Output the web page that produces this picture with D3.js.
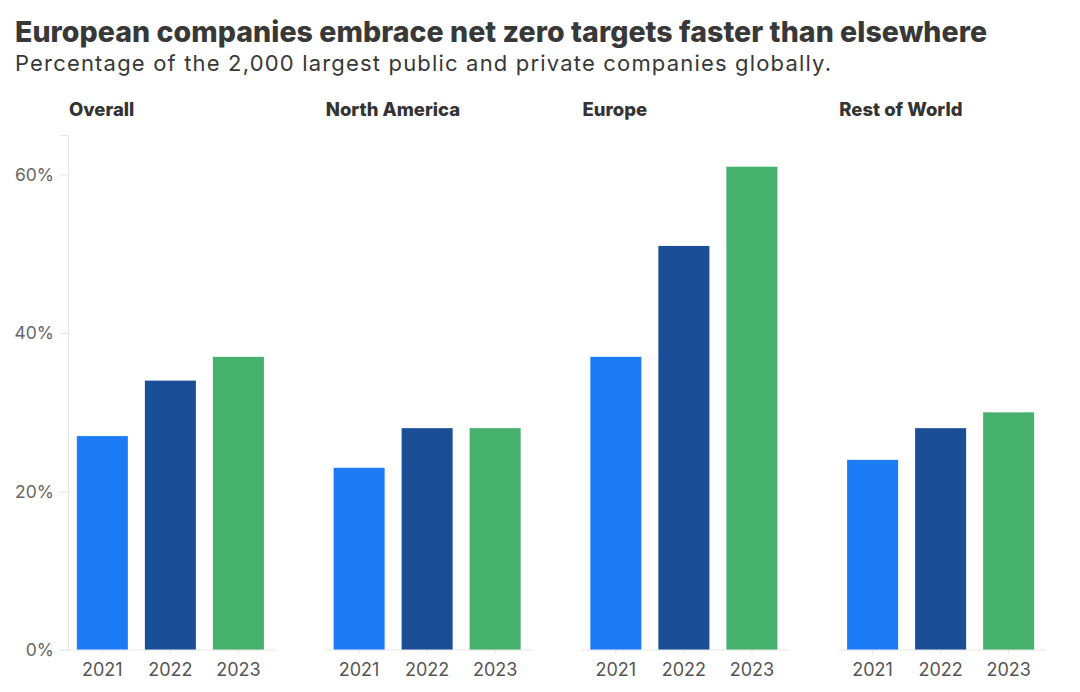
<!DOCTYPE html>
<html>
<head>
<meta charset="UTF-8">
<title>Net zero targets</title>
<script src="https://cdn.jsdelivr.net/npm/d3@7/dist/d3.min.js"></script>
<style>
  body { margin: 0; background: #fff; }
  svg text { font-family: "Inter", "Open Sans", sans-serif; }
</style>
</head>
<body>
<svg width="1080" height="692"></svg>
<script>
  // data
  var regions = ["Overall", "North America", "Europe", "Rest of World"];
  var years = ["2021", "2022", "2023"];
  var v2021 = [27, 23, 37, 24];
  var v2022 = [34, 28, 51, 28];
  var v2023 = [37, 28, 61, 30];
  var yTicks = [0, 20, 40, 60];
  var colors = ["#1b7cf6", "#1a4f98", "#46b06d"];

  var series = [v2021, v2022, v2023];

  var svg = d3.select("svg");
  var marge = {top: 135, bottom: 42, left: 68, right: 37};
  var height = +svg.attr("height");
  var width = +svg.attr("width");

  // titles
  svg.append("text")
    .attr("x", 15).attr("y", 42)
    .attr("font-size", 28.5).attr("font-weight", 800)
    .attr("fill", "#383838")
    .attr("textLength", 972).attr("lengthAdjust", "spacing")
    .text("European companies embrace net zero targets faster than elsewhere");
  svg.append("text")
    .attr("x", 15).attr("y", 71)
    .attr("font-size", 22)
    .attr("fill", "#383838")
    .attr("textLength", 816).attr("lengthAdjust", "spacing")
    .text("Percentage of the 2,000 largest public and private companies globally.");

  var yScale = d3.scaleLinear()
    .domain([0, 65])
    .range([height - marge.bottom, marge.top]);

  // panels
  var panelScale = d3.scaleBand()
    .domain(regions)
    .range([marge.left, width - marge.right + 52])
    .paddingInner(0)
    .paddingOuter(0);
  var panelW = panelScale.step() - 52;

  var xScale = d3.scaleBand()
    .domain(years)
    .range([0, panelW])
    .paddingInner(0.25)
    .paddingOuter(0.13);

  // y axis on the first panel
  var yAxis = d3.axisLeft(yScale)
    .tickValues(yTicks)
    .tickSize(8)
    .tickPadding(6)
    .tickFormat(function(d){ return d + "%"; });
  var gy = svg.append("g")
    .attr("transform", "translate(" + marge.left + ",0)")
    .call(yAxis);
  gy.select(".domain").attr("stroke", "#e6e6e6");
  gy.selectAll(".tick line").attr("stroke", "#e6e6e6");
  gy.selectAll(".tick text")
    .attr("font-size", 17.5).attr("fill", "#666")
    .attr("font-family", "Inter, sans-serif");

  regions.forEach(function(r, ri){
    var g = svg.append("g")
      .attr("transform", "translate(" + panelScale(r) + ",0)");

    g.append("text")
      .attr("x", 1).attr("y", 116)
      .attr("font-size", 18.5).attr("font-weight", 800)
      .attr("fill", "#333")
      .text(r);

    // bars
    g.selectAll("rect")
      .data(years)
      .enter()
      .append("rect")
      .attr("x", function(d){ return xScale(d); })
      .attr("y", function(d, i){ return yScale(series[i][ri]); })
      .attr("width", xScale.bandwidth())
      .attr("height", function(d, i){ return yScale(0) - yScale(series[i][ri]); })
      .attr("fill", function(d, i){ return colors[i]; });

    // x axis
    var gx = g.append("g")
      .attr("transform", "translate(0," + yScale(0) + ")")
      .call(d3.axisBottom(xScale).tickSize(5).tickPadding(8).tickSizeOuter(0));
    gx.select(".domain").attr("stroke", "#e6e6e6")
      .attr("d", "M" + (ri === 0 ? -8 : 0) + ",0H" + (panelW + 3));
    gx.selectAll(".tick line").attr("stroke", "#e6e6e6");
    gx.selectAll(".tick text")
      .attr("font-size", 18).attr("fill", "#555")
      .attr("font-family", "Inter, sans-serif");
  });
</script>
</body>
</html>
